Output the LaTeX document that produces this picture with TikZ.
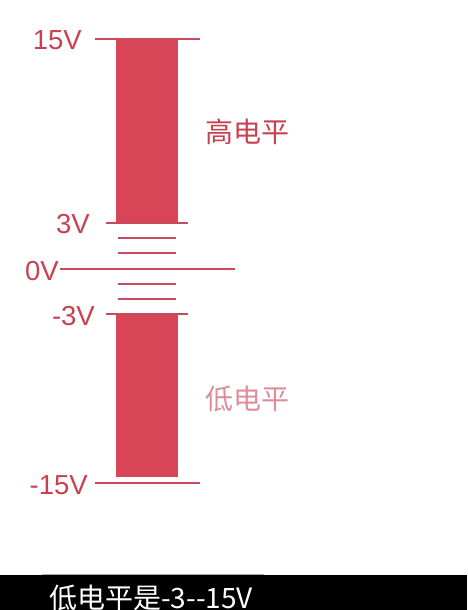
\documentclass[tikz,border=0pt]{standalone}
\usepackage{fontspec}
\setmainfont{Liberation Sans}
\newfontfamily\cjk{Noto Sans CJK SC}
\definecolor{barred}{HTML}{D84557}
\definecolor{linered}{HTML}{C94A5B}
\definecolor{txtred}{HTML}{C9414F}
\definecolor{txtpink}{HTML}{DE8D9C}
\tikzset{
  lvl/.style={draw=linered, line width=2.2pt},
  bar/.style={fill=barred, draw=none},
  vlabel/.style={text=txtred, inner sep=0pt, anchor=base east, font=\fontsize{27.5}{30}\selectfont},
  zhlabel/.style={inner sep=0pt, anchor=center, font=\cjk\fontsize{28}{30}\selectfont},
}
\begin{document}
\begin{tikzpicture}[x=1pt,y=-1pt]
\useasboundingbox (0,0) rectangle (467,610);
\fill[white] (0,0) rectangle (467,610);
% bars
\fill[bar] (116,39) rectangle (178,222);
\fill[bar] (116,314) rectangle (178,477);
% level lines
\coordinate (t1) at (95,39);  \coordinate (t2) at (200,39);
\coordinate (a1) at (106,223); \coordinate (a2) at (188,223);
\coordinate (s1) at (118,238); \coordinate (s2) at (176,238);
\coordinate (s3) at (118,253); \coordinate (s4) at (176,253);
\coordinate (z1) at (60,269); \coordinate (z2) at (235,269);
\coordinate (s5) at (118,284); \coordinate (s6) at (176,284);
\coordinate (s7) at (118,299); \coordinate (s8) at (176,299);
\coordinate (b1) at (106,314); \coordinate (b2) at (188,314);
\coordinate (m1) at (95,483); \coordinate (m2) at (200,483);
\draw[lvl] (t1) -- (t2);
\draw[lvl] (a1) -- (a2);
\draw[lvl] (s1) -- (s2);
\draw[lvl] (s3) -- (s4);
\draw[lvl] (z1) -- (z2);
\draw[lvl] (s5) -- (s6);
\draw[lvl] (s7) -- (s8);
\draw[lvl] (b1) -- (b2);
\draw[lvl] (m1) -- (m2);
% voltage labels
\node[vlabel] (l15) at (82,50) {15V};
\node[vlabel] (l3) at (90,233) {3V};
\node[vlabel] (l0) at (59,280) {0V};
\node[vlabel] (lm3) at (95,325) {-3V};
\node[vlabel] (lm15) at (88,494) {-15V};
% region labels
\node[zhlabel, text=txtred] (hi) at (247.5,131.5) {高电平};
\node[zhlabel, text=txtpink] (lo) at (247,399) {低电平};
% caption bar
\fill[black] (0,575) rectangle (467,610);
\draw[gray!70, line width=1pt] (42,574.5) -- (264,574.5);
\node[inner sep=0pt, anchor=base west, text=white, font=\cjk\fontsize{28}{30}\selectfont] (cap) at (49,608.5) {低电平是-3--15V};
\end{tikzpicture}
\end{document}
